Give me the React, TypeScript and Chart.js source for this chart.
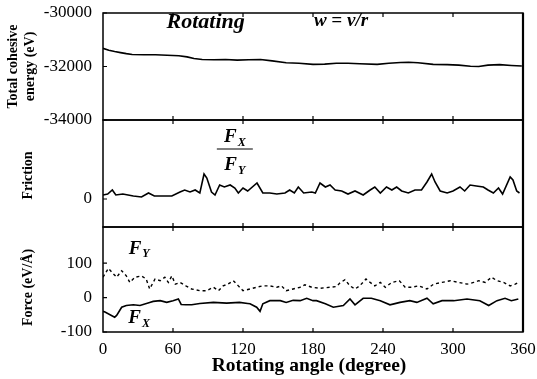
import React, { useEffect, useRef } from 'react';
import { Chart, registerables } from 'chart.js';

Chart.register(...registerables);

// ---------- data ----------
const xTickValues = [0, 60, 120, 180, 240, 300, 360];
const innerXTicks = [60, 120, 180, 240, 300];
const energyTicks = [-34000, -32000, -30000];
const frictionTicks = [0];
const forceTicks = [-100, 0, 100];

const energyAngles = [0, 5, 10, 15, 20, 25, 35, 45, 55, 65, 72, 78, 85, 95, 105, 115, 125, 135, 145, 157, 168, 180, 190, 200, 210, 220, 235, 245, 255, 262, 270, 283, 295, 305, 315, 322, 330, 340, 350, 359];
const energyValues = [-31320, -31390, -31440, -31480, -31520, -31550, -31560, -31560, -31580, -31600, -31640, -31700, -31740, -31750, -31740, -31760, -31750, -31740, -31790, -31860, -31880, -31920, -31910, -31880, -31880, -31900, -31920, -31880, -31850, -31840, -31860, -31920, -31930, -31950, -31990, -32000, -31950, -31930, -31960, -31980];

const frictionAngles = [0, 4, 8, 11, 17, 26, 33, 39, 44, 52, 59, 66, 70, 74.6, 79, 83, 86.6, 89, 93, 96, 100, 104, 109, 113, 116, 120, 124, 132, 137, 143, 149, 156, 160, 164, 167.4, 172, 179, 182, 186, 190.6, 194.6, 199, 204.6, 210, 216, 223, 229, 233, 237.7, 243, 247.6, 251.7, 256, 261.7, 267.4, 273, 277.7, 281.7, 284.6, 289, 295, 300, 306, 310, 314.6, 320, 326, 330, 334.6, 339, 342.5, 349, 351.4, 354.6, 357];
const frictionValues = [0.04, 0.05, 0.09, 0.04, 0.05, 0.03, 0.02, 0.06, 0.03, 0.03, 0.03, 0.07, 0.09, 0.07, 0.09, 0.06, 0.25, 0.21, 0.07, 0.04, 0.14, 0.12, 0.14, 0.11, 0.06, 0.11, 0.08, 0.16, 0.06, 0.06, 0.05, 0.06, 0.09, 0.06, 0.12, 0.06, 0.07, 0.06, 0.16, 0.12, 0.14, 0.09, 0.08, 0.05, 0.08, 0.04, 0.09, 0.12, 0.06, 0.12, 0.09, 0.12, 0.08, 0.06, 0.09, 0.09, 0.17, 0.25, 0.17, 0.08, 0.06, 0.08, 0.12, 0.08, 0.14, 0.13, 0.12, 0.09, 0.06, 0.11, 0.05, 0.22, 0.19, 0.08, 0.06];

const fyAngles = [0, 4.6, 8.9, 11.7, 16, 20, 23, 27.4, 33, 37, 40, 44.6, 49, 53, 56, 59, 62, 66, 71, 76, 83, 89, 94.6, 99, 103, 107, 111.7, 116, 120, 126, 131.7, 137, 143, 149, 153, 157, 163, 169, 173, 179, 186, 194.6, 200, 203, 207.4, 211.7, 216, 220, 225.4, 229, 233, 237.7, 242, 247.6, 254, 259, 265, 270.6, 277.7, 283.4, 290.6, 297.7, 305, 312, 317.7, 322, 327.7, 333, 337.7, 343.4, 349, 353.4, 356];
const fyValues = [59, 85, 69, 59, 78, 63, 44, 59, 63, 54, 25, 54, 49, 59, 44, 63, 39, 44, 34, 25, 20, 20, 30, 20, 34, 39, 49, 34, 20, 25, 30, 34, 34, 30, 34, 20, 25, 30, 37, 30, 27, 30, 32, 42, 52, 34, 25, 34, 54, 44, 34, 44, 30, 44, 49, 30, 30, 34, 25, 39, 44, 49, 44, 39, 44, 49, 44, 59, 49, 44, 34, 39, 44];

const fxAngles = [0, 1.7, 10, 11.7, 16, 20, 26, 31.7, 40, 43, 49, 54.6, 60, 64.6, 67, 71, 76, 83, 94.6, 106, 117, 124, 126, 131.7, 134.6, 137, 143, 152, 157, 163, 169, 174.6, 180, 183, 190.6, 197.4, 206, 211.7, 216, 223, 230, 237.7, 246, 254.6, 263, 269, 277.7, 283, 290.6, 300.6, 312, 323, 330.6, 337.7, 344.6, 350, 356];
const fxValues = [-40, -42, -57, -52, -28, -23, -21, -23, -14, -11, -9, -14, -9, -4, -20, -21, -21, -17, -14, -16, -14, -17, -18, -28, -40, -18, -9, -9, -14, -8, -9, -2, -9, -9, -18, -28, -23, -4, -21, -2, -2, -9, -21, -14, -9, -14, -2, -18, -9, -9, -4, -9, -23, -9, -2, -9, -4];

// ---------- helpers ----------
const SERIF = '"Liberation Serif", "DejaVu Serif", serif';

type Label = { text: string; sub?: string; x: number; y: number; size: number; subSize?: number };

function toPoints(xs: number[], ys: number[]) {
  return xs.map((x, i) => ({ x, y: ys[i] }));
}

function drawLabel(ctx: CanvasRenderingContext2D, l: Label, px: number, py: number) {
  ctx.font = `italic bold ${l.size}px ${SERIF}`;
  const w = ctx.measureText(l.text).width;
  let subW = 0;
  if (l.sub) {
    ctx.font = `italic bold ${l.subSize}px ${SERIF}`;
    subW = ctx.measureText(l.sub).width;
  }
  const total = w + subW + (l.sub ? 1 : 0);
  const left = px - total / 2;
  ctx.textAlign = 'left';
  ctx.textBaseline = 'middle';
  ctx.font = `italic bold ${l.size}px ${SERIF}`;
  ctx.fillText(l.text, left, py);
  if (l.sub) {
    ctx.font = `italic bold ${l.subSize}px ${SERIF}`;
    ctx.fillText(l.sub, left + w + 1, py + l.size * 0.3);
  }
}

function makeFramePlugin(labels: Label[], yTitle: string[], yTitleX: number[], yTitleDy: number, fraction?: { x: number; y: number; half: number }, xTitle?: string) {
  return {
    id: 'frame',
    afterDraw(chart: any) {
      const { ctx, chartArea: a, scales } = chart;
      ctx.save();
      ctx.strokeStyle = '#000';
      ctx.fillStyle = '#000';
      ctx.lineWidth = 1.5;
      ctx.strokeRect(a.left, a.top, a.right - a.left, a.bottom - a.top);
      ctx.lineWidth = 2.2;
      ctx.beginPath();
      ctx.moveTo(a.right, a.top);
      ctx.lineTo(a.right, a.bottom);
      ctx.stroke();
      ctx.lineWidth = 1.2;
      ctx.beginPath();
      for (const v of innerXTicks) {
        const px = scales.x.getPixelForValue(v);
        ctx.moveTo(px, a.bottom);
        ctx.lineTo(px, a.bottom - 4);
        ctx.moveTo(px, a.top);
        ctx.lineTo(px, a.top + 4);
      }
      for (const t of scales.y.ticks) {
        const py = scales.y.getPixelForValue(t.value);
        ctx.moveTo(a.left, py);
        ctx.lineTo(a.left + 4, py);
      }
      ctx.stroke();

      for (const l of labels) {
        drawLabel(ctx, l, scales.x.getPixelForValue(l.x), scales.y.getPixelForValue(l.y));
      }
      if (fraction) {
        const cx = scales.x.getPixelForValue(fraction.x);
        const cy = scales.y.getPixelForValue(fraction.y);
        ctx.lineWidth = 1.2;
        ctx.beginPath();
        ctx.moveTo(cx - fraction.half, cy);
        ctx.lineTo(cx + fraction.half, cy);
        ctx.stroke();
      }

      // y-axis title (rotated)
      const cy = (a.top + a.bottom) / 2 + yTitleDy;
      ctx.font = `bold 14px ${SERIF}`;
      ctx.textAlign = 'center';
      ctx.textBaseline = 'middle';
      yTitle.forEach((line, i) => {
        ctx.save();
        ctx.translate(yTitleX[i], cy);
        ctx.rotate(-Math.PI / 2);
        ctx.fillText(line, 0, 0);
        ctx.restore();
      });

      if (xTitle) {
        ctx.font = `bold 19.5px ${SERIF}`;
        ctx.textAlign = 'center';
        ctx.textBaseline = 'middle';
        ctx.fillText(xTitle, (a.left + a.right) / 2 - 4, a.bottom + 34);
      }
      ctx.restore();
    },
  };
}

type PanelCfg = {
  datasets: any[];
  yMin: number;
  yMax: number;
  yTicks: number[];
  showX: boolean;
  padTop: number;
  padBottom: number;
  xAxisHeight: number;
  plugin: any;
};

function buildChart(canvas: HTMLCanvasElement, cfg: PanelCfg) {
  return new Chart(canvas, {
    type: 'line',
    data: { datasets: cfg.datasets },
    options: {
      animation: false,
      responsive: false,
      maintainAspectRatio: false,
      events: [],
      layout: { padding: { top: cfg.padTop, bottom: cfg.padBottom, left: 0, right: 14 } },
      plugins: { legend: { display: false }, tooltip: { enabled: false }, title: { display: false } },
      elements: { point: { radius: 0 }, line: { tension: 0 } },
      scales: {
        x: {
          type: 'linear',
          min: 0,
          max: 360,
          afterBuildTicks: (s: any) => {
            s.ticks = xTickValues.map((v) => ({ value: v }));
          },
          ticks: {
            display: cfg.showX,
            color: '#000',
            font: { family: SERIF, size: 17 },
            padding: 7,
            maxRotation: 0,
            callback: (v: any) => String(v),
          },
          grid: { display: false, drawTicks: false },
          border: { display: false },
          afterFit: (s: any) => {
            s.height = cfg.xAxisHeight;
            s.paddingLeft = 0;
            s.paddingRight = 0;
            s.paddingTop = 0;
            s.paddingBottom = 0;
          },
        },
        y: {
          type: 'linear',
          min: cfg.yMin,
          max: cfg.yMax,
          afterBuildTicks: (s: any) => {
            s.ticks = cfg.yTicks.map((v) => ({ value: v }));
          },
          ticks: {
            color: '#000',
            font: { family: SERIF, size: 17 },
            padding: 11,
            callback: (v: any) => String(v),
          },
          grid: { display: false, drawTicks: false },
          border: { display: false },
          afterFit: (s: any) => {
            s.width = 103;
            s.paddingLeft = 0;
            s.paddingRight = 0;
            s.paddingTop = 0;
            s.paddingBottom = 0;
          },
        },
      },
    },
    plugins: [cfg.plugin],
  } as any);
}

export default function App() {
  const refA = useRef<HTMLCanvasElement>(null);
  const refB = useRef<HTMLCanvasElement>(null);
  const refC = useRef<HTMLCanvasElement>(null);

  useEffect(() => {
    const solid = { borderColor: '#000', borderWidth: 1.6, pointRadius: 0, fill: false };

    const chartA = buildChart(refA.current!, {
      datasets: [{ ...solid, data: toPoints(energyAngles, energyValues) }],
      yMin: -34000,
      yMax: -30000,
      yTicks: energyTicks,
      showX: false,
      padTop: 13,
      padBottom: 10,
      xAxisHeight: 0,
      plugin: makeFramePlugin(
        [
          { text: 'Rotating', x: 88, y: -30340, size: 22 },
          { text: 'w = v/r', x: 204, y: -30290, size: 19 },
        ],
        ['Total cohesive', 'energy (eV)'],
        [13, 30],
        0
      ),
    });

    const chartB = buildChart(refB.current!, {
      datasets: [{ ...solid, data: toPoints(frictionAngles, frictionValues) }],
      yMin: -0.28,
      yMax: 0.79,
      yTicks: frictionTicks,
      showX: false,
      padTop: 10,
      padBottom: 13,
      xAxisHeight: 0,
      plugin: makeFramePlugin(
        [
          { text: 'F', sub: 'X', x: 113, y: 0.62, size: 19, subSize: 12 },
          { text: 'F', sub: 'Y', x: 113, y: 0.34, size: 19, subSize: 12 },
        ],
        ['Friction'],
        [28],
        2,
        { x: 113, y: 0.5, half: 18 }
      ),
    });

    const chartC = buildChart(refC.current!, {
      datasets: [
        { ...solid, borderWidth: 1.4, borderDash: [3, 3], data: toPoints(fyAngles, fyValues) },
        { ...solid, data: toPoints(fxAngles, fxValues) },
      ],
      yMin: -100,
      yMax: 205,
      yTicks: forceTicks,
      showX: true,
      padTop: 10,
      padBottom: 0,
      xAxisHeight: 47,
      plugin: makeFramePlugin(
        [
          { text: 'F', sub: 'Y', x: 31, y: 142, size: 19, subSize: 12 },
          { text: 'F', sub: 'X', x: 31, y: -61, size: 19, subSize: 12 },
        ],
        ['Force (eV/Å)'],
        [28],
        8,
        undefined,
        'Rotating angle (degree)'
      ),
    });

    return () => {
      chartA.destroy();
      chartB.destroy();
      chartC.destroy();
    };
  }, []);

  const cs = (top: number, h: number): React.CSSProperties => ({
    position: 'absolute',
    left: 0,
    top,
    width: 537,
    height: h,
    display: 'block',
  });

  return (
    <div style={{ position: 'absolute', left: 0, top: 0, width: 537, height: 379, background: '#fff' }}>
      <canvas ref={refA} width={537} height={130} style={cs(0, 130)} />
      <canvas ref={refB} width={537} height={130} style={cs(110, 130)} />
      <canvas ref={refC} width={537} height={162} style={cs(217, 162)} />
    </div>
  );
}
